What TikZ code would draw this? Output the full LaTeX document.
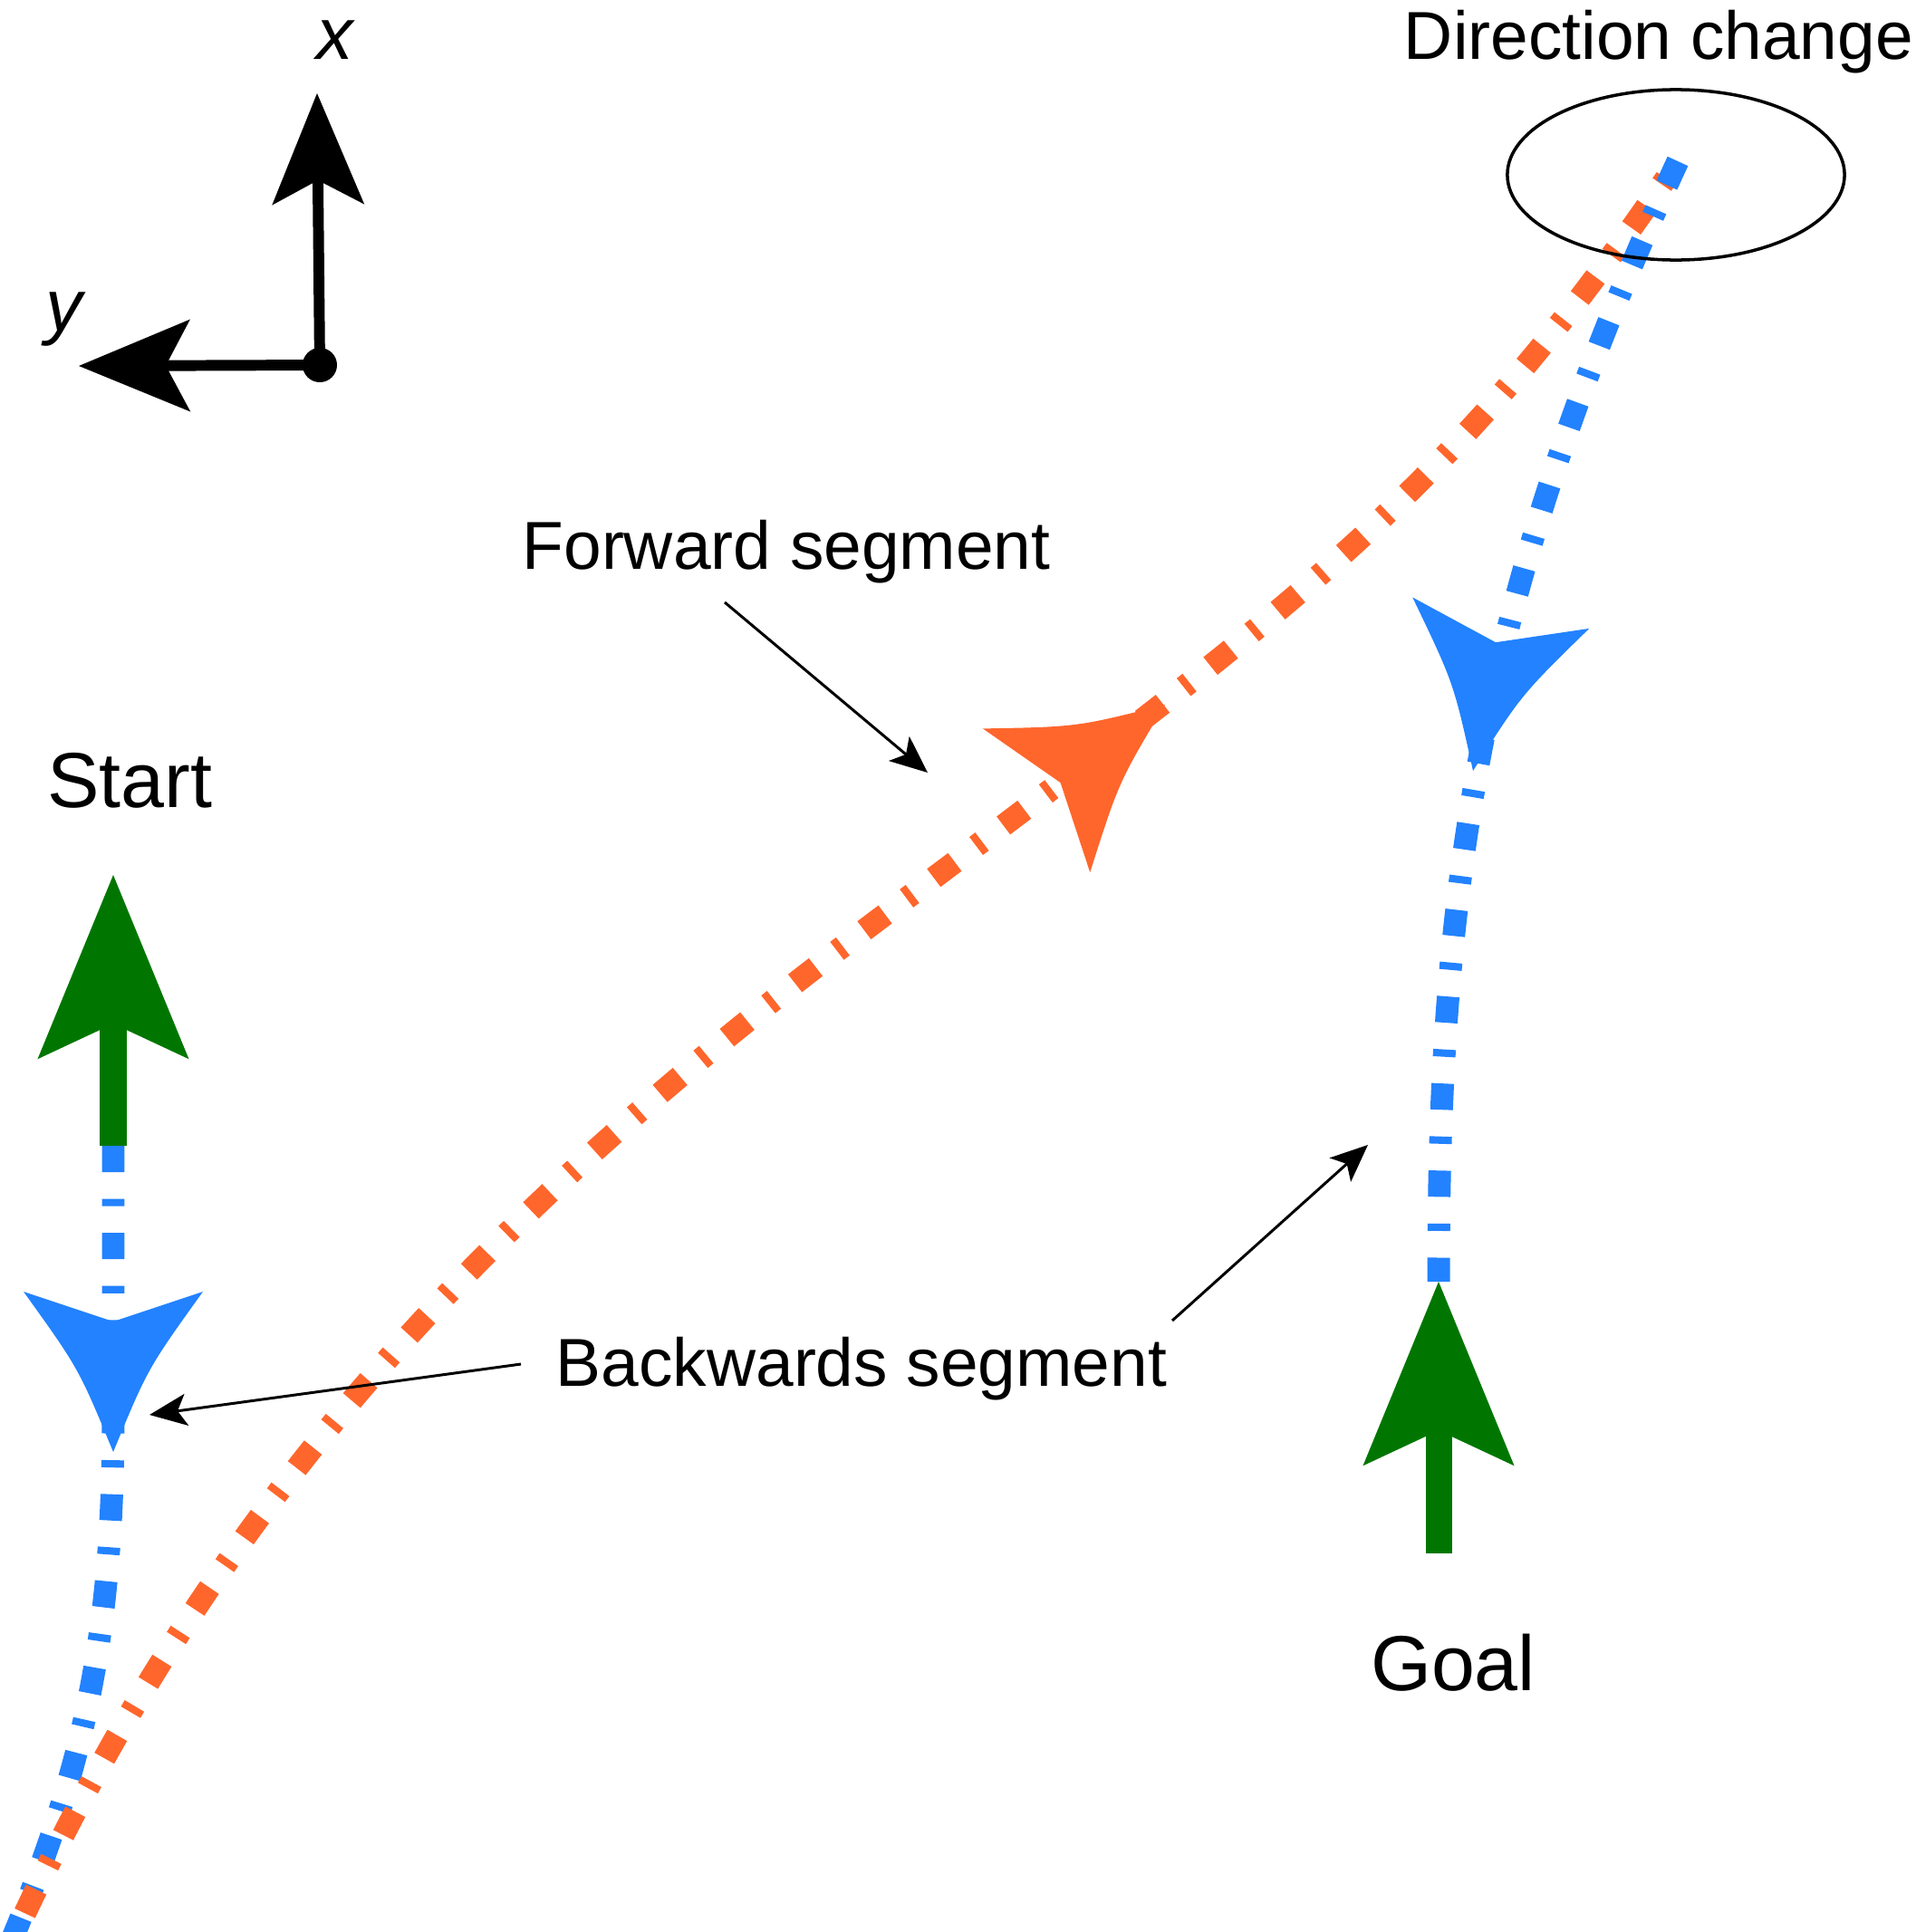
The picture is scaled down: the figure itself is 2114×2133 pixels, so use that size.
\documentclass[tikz,border=0pt]{standalone}
\usepackage{fontspec}
\setmainfont{Liberation Sans}
\usetikzlibrary{arrows.meta}
\definecolor{pathblue}{RGB}{34,130,255}
\definecolor{pathorange}{RGB}{255,102,44}
\definecolor{posegreen}{RGB}{0,118,0}
\tikzset{
  segline/.style={line width=7.1pt, dash pattern=on 8.25pt off 8.4pt on 2.3pt off 8.4pt},
  fwdseg/.style={segline, pathorange},
  bwdseg/.style={segline, pathblue},
  posearrow/.style={posegreen, line width=8.25pt, -{Stealth[length=57.8pt, width=47.5pt, inset=11.1pt, line width=0pt]}},
  axisarrow/.style={line width=3.4pt, -{Stealth[length=35pt, width=29pt, inset=7.7pt, line width=0pt]}},
  callout/.style={line width=0.85pt, -{Stealth[length=11.7pt, width=10pt, inset=2.8pt]}},
  bigtext/.style={font=\fontsize{24.5}{28}\selectfont, anchor=base, inner sep=0pt},
  labeltext/.style={font=\fontsize{21.3}{25}\selectfont, anchor=base, inner sep=0pt},
  axistext/.style={font=\fontsize{23}{27}\selectfont\itshape, anchor=base, inner sep=0pt},
  swepthead/.pic={\fill (-177,99) .. controls (-92,38) .. (0,0) .. controls (-92,-38) .. (-177,-99) -- (-144,0) -- cycle;}
}
\begin{document}
\begin{tikzpicture}[x=0.01cm, y=-0.01cm]
                \useasboundingbox (0,0) rectangle (2114,2133);
                \coordinate (startrear) at (125,1265);
                \coordinate (starttip) at (125,966);
                \coordinate (goalrear) at (1588,1715);
                \coordinate (goaltip) at (1588,1415);
                \coordinate (cusp) at (-12,2200);
                \coordinate (turn) at (1852,178);
                \coordinate (frameorigin) at (353,403);
                \coordinate (xtip) at (350,103);
                \coordinate (ytip) at (87,404);

                \begin{scope}
                \clip (0,0) rectangle (2114,2133);
                \draw[bwdseg] (startrear) -- (125,1560) .. controls (125,1815) and (92,1965) .. (cusp);
                \draw[fwdseg] (cusp) .. controls (208,1690) and (511,1361) .. (950,1030) .. controls (1429,669) and (1600,551) .. (turn);
                \draw[bwdseg] (turn) .. controls (1621,679) and (1588,1018) .. (goaltip);
                \end{scope}

                \pic[fill=pathblue, rotate=-90] at (125,1603) {swepthead};
                \pic[fill=pathorange, rotate=36.7] at (1286,778) {swepthead};
                \pic[fill=pathblue, rotate=-100] at (1626,851) {swepthead};

                \draw[posearrow] (startrear) -- (starttip);
                \draw[posearrow] (goalrear) -- (goaltip);

                \draw[axisarrow] (frameorigin) -- (xtip);
                \draw[axisarrow] (frameorigin) -- (ytip);
                \fill (frameorigin) circle[radius=0.19cm];
                \node[axistext] (xlabel) at (370,65) {x};
                \node[axistext] (ylabel) at (71,365) {y};

                \draw[line width=1pt] (1850,193) ellipse [x radius=1.86cm, y radius=0.94cm];

                \node[bigtext] (startlabel) at (143,891) {Start};
                \node[bigtext] (goallabel) at (1604,1866) {Goal};
                \node[labeltext] (fwdlabel) at (868,628) {Forward segment};
                \node[labeltext] (bwdlabel) at (951,1530) {Backwards segment};
                \node[labeltext] (turnlabel) at (1831,65) {Direction change};

                \coordinate (fwdtail) at (800,665);
                \coordinate (fwdpoint) at (1024,853);
                \coordinate (bwdtailA) at (575,1506);
                \coordinate (bwdpointA) at (165,1562);
                \coordinate (bwdtailB) at (1294,1458);
                \coordinate (bwdpointB) at (1510,1264);
                \draw[callout] (fwdtail) -- (fwdpoint);
                \draw[callout] (bwdtailA) -- (bwdpointA);
                \draw[callout] (bwdtailB) -- (bwdpointB);
\end{tikzpicture}
\end{document}
